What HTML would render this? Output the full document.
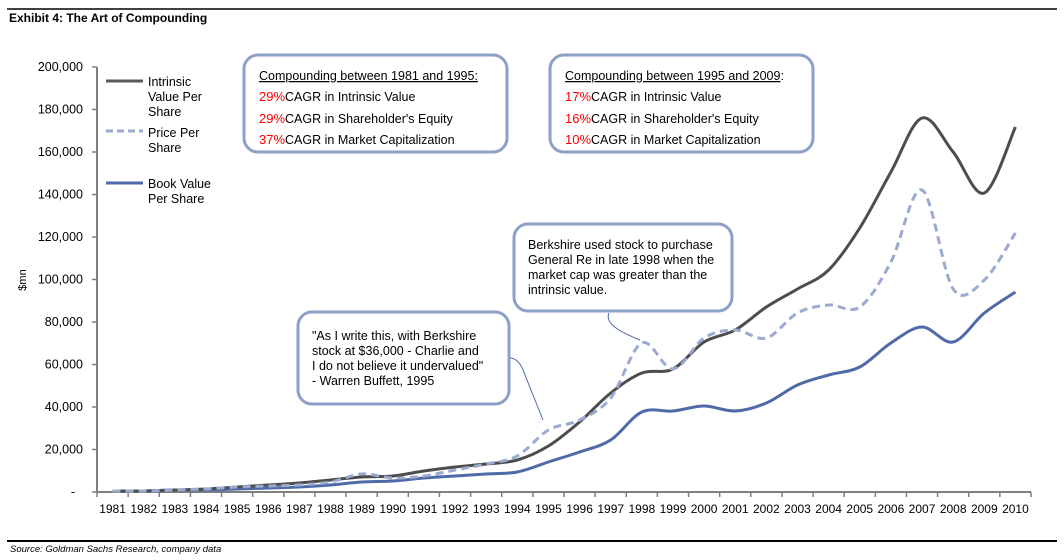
<!DOCTYPE html>
<html><head><meta charset="utf-8"><style>
body{margin:0;background:#fff;}
svg{display:block;font-family:"Liberation Sans",Arial,sans-serif;}
</style></head><body>
<svg id="s" width="1064" height="560" viewBox="0 0 1064 560" xmlns="http://www.w3.org/2000/svg">
<rect width="1064" height="560" fill="#fff"/>
<line x1="7" y1="9" x2="1057" y2="9" stroke="#000" stroke-width="1.5"/>
<text x="9" y="22" font-size="12" font-weight="bold">Exhibit 4: The Art of Compounding</text>
<line x1="7" y1="541" x2="1057" y2="541" stroke="#000" stroke-width="2"/>
<text x="10" y="552" font-size="9.5" font-style="italic">Source: Goldman Sachs Research, company data</text>
<g id="ax" font-size="12.5" fill="#000"></g>
<text transform="translate(26,280) rotate(-90)" font-size="11" text-anchor="middle">$mn</text>
<line x1="106" y1="81" x2="143" y2="81" stroke="#595959" stroke-width="3"/>
<text font-size="12.5"><tspan x="148" y="86">Intrinsic</tspan><tspan x="148" y="101">Value Per</tspan><tspan x="148" y="116">Share</tspan></text>
<line x1="106" y1="131" x2="143" y2="131" stroke="#9aaad0" stroke-width="3" stroke-dasharray="7,4"/>
<text font-size="12.5"><tspan x="148" y="137">Price Per</tspan><tspan x="148" y="152">Share</tspan></text>
<line x1="106" y1="183" x2="143" y2="183" stroke="#4f6aa8" stroke-width="3"/>
<text font-size="12.5"><tspan x="148" y="188">Book Value</tspan><tspan x="148" y="203">Per Share</tspan></text>
<g id="lines" fill="none"></g>
<rect x="244" y="55" width="263" height="97" rx="14" fill="#fff" stroke="#8ea0c8" stroke-width="3"/>
<text font-size="12.5"><tspan x="259" y="80" text-decoration="underline">Compounding between 1981 and  1995:</tspan></text>
<text font-size="12.5"><tspan x="259" y="101" fill="#ff0000" font-size="13">29%</tspan><tspan>CAGR in Intrinsic Value</tspan></text>
<text font-size="12.5"><tspan x="259" y="123" fill="#ff0000" font-size="13">29%</tspan><tspan>CAGR in Shareholder's Equity</tspan></text>
<text font-size="12.5"><tspan x="259" y="144" fill="#ff0000" font-size="13">37%</tspan><tspan>CAGR in Market Capitalization</tspan></text>
<rect x="550" y="55" width="263" height="97" rx="14" fill="#fff" stroke="#8ea0c8" stroke-width="3"/>
<text font-size="12.5"><tspan x="565" y="80" text-decoration="underline">Compounding between 1995 and 2009</tspan><tspan>:</tspan></text>
<text font-size="12.5"><tspan x="565" y="101" fill="#ff0000" font-size="13">17%</tspan><tspan>CAGR in Intrinsic Value</tspan></text>
<text font-size="12.5"><tspan x="565" y="123" fill="#ff0000" font-size="13">16%</tspan><tspan>CAGR in Shareholder's Equity</tspan></text>
<text font-size="12.5"><tspan x="565" y="144" fill="#ff0000" font-size="13">10%</tspan><tspan>CAGR in Market Capitalization</tspan></text>
<path d="M502,357 C515,357 520,360 525,375 L543,420" fill="none" stroke="#4f6aa8" stroke-width="1"/>
<rect x="298" y="312" width="211" height="92" rx="14" fill="#fff" stroke="#8ea0c8" stroke-width="3"/>
<text font-size="12.5"><tspan x="312" y="340">"As I write this, with Berkshire</tspan><tspan x="312" y="355">stock at $36,000 - Charlie and</tspan><tspan x="312" y="370">I do not believe it undervalued"</tspan><tspan x="312" y="385">- Warren Buffett, 1995</tspan></text>
<path d="M609,313 C605,322 615,330 640,340" fill="none" stroke="#4f6aa8" stroke-width="1"/>
<rect x="514" y="224" width="218" height="87" rx="14" fill="#fff" stroke="#8ea0c8" stroke-width="3"/>
<text font-size="12.5"><tspan x="528" y="249">Berkshire used stock to purchase</tspan><tspan x="528" y="264">General Re in late 1998 when the</tspan><tspan x="528" y="279">market cap was greater than the</tspan><tspan x="528" y="294">intrinsic value.</tspan></text>
</svg>
<script>
var NS="http://www.w3.org/2000/svg";
function el(p,t,a,txt){var e=document.createElementNS(NS,t);for(var k in a)e.setAttribute(k,a[k]);if(txt!=null)e.textContent=txt;p.appendChild(e);return e;}
var ax=document.getElementById('ax');
var x0=97,x1=1031,cw=(x1-x0)/30,y0=492,py=42.5;
el(ax,'line',{x1:x0,y1:67,x2:x0,y2:y0,stroke:'#808080','stroke-width':2});
el(ax,'line',{x1:x0,y1:y0,x2:x1,y2:y0,stroke:'#808080','stroke-width':2});
for(var i=0;i<=10;i++){var y=y0-i*py;el(ax,'line',{x1:x0-5,y1:y,x2:x0,y2:y,stroke:'#808080','stroke-width':1.5});
var lab=i==0?'-':(i*20)+',000';el(ax,'text',{x:i==0?75:83,y:y+4,'text-anchor':'end'},lab);}
for(var i=0;i<=30;i++){var x=x0+i*cw;el(ax,'line',{x1:x,y1:y0,x2:x,y2:y0+5,stroke:'#808080','stroke-width':1.5});}
for(var i=0;i<30;i++){el(ax,'text',{x:x0+cw*(i+.5),y:513,'text-anchor':'middle','font-size':'12'},String(1981+i));}
var I=[491,491,490,489,487,485,483,480,477,476,471,467,464,460,446,422,393,373,369,342,330,307,289,270,228,172,118,152,193,127];
var P=[491,491,490,489,487,486,485,482,474,478,476,470,464,456,430,420,398,343,369,338,330,338,313,305,307,262,190,289,280,233];
var B=[491,491,490,490,489,488,487,485,482,481,478,476,474,472,462,452,440,412,411,406,411,403,385,375,367,343,327,342,313,292];
function path(Y){var pts=Y.map(function(v,i){return [x0+cw*(i+.5),v];});var d='M'+pts[0][0]+','+pts[0][1];
for(var i=0;i<pts.length-1;i++){var p0=pts[Math.max(0,i-1)],p1=pts[i],p2=pts[i+1],p3=pts[Math.min(pts.length-1,i+2)];var t=6;
d+=' C'+(p1[0]+(p2[0]-p0[0])/t)+','+(p1[1]+(p2[1]-p0[1])/t)+' '+(p2[0]-(p3[0]-p1[0])/t)+','+(p2[1]-(p3[1]-p1[1])/t)+' '+p2[0]+','+p2[1];}return d;}
var g=document.getElementById('lines');
el(g,'path',{d:path(B),stroke:'#4f6aa8','stroke-width':3});
el(g,'path',{d:path(I),stroke:'#4d4d4d','stroke-width':3});
el(g,'path',{d:path(P),stroke:'#9aaad0','stroke-width':3,'stroke-dasharray':'8,5'});
</script>
</body></html>
